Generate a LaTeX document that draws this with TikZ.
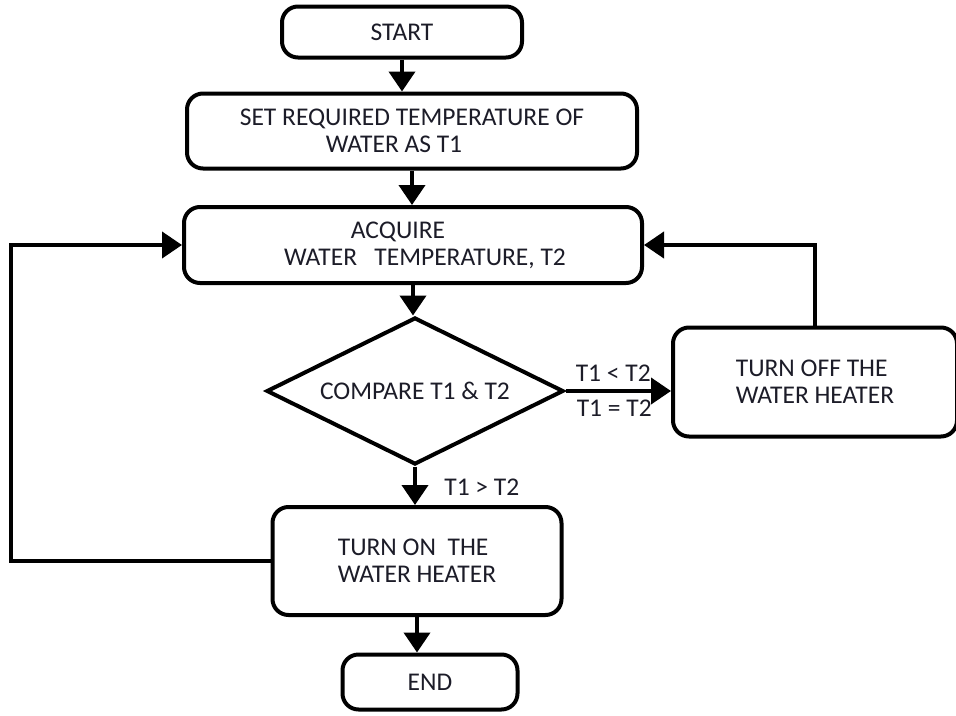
\documentclass[tikz,border=0pt]{standalone}
\usepackage{fontspec}
\setmainfont{Carlito}
\usetikzlibrary{arrows.meta,shapes.geometric}
\definecolor{ink}{HTML}{1C1C28}

\begin{document}
\begin{tikzpicture}[x=1pt,y=-1pt,font=\fontsize{25.5}{27}\selectfont,every node/.append style={text=ink},
 blk/.style={draw,line width=4pt,rounded corners=16pt,inner sep=0pt,align=center},
 arr/.style={line width=4pt,-{Triangle[length=20pt,width=26pt]}}]
 \useasboundingbox(0,0)rectangle(956,715);
 \node[blk,minimum width=240,minimum height=51](start)at(402,32){START};
 \node[blk,minimum width=450,minimum height=75](setT)at(412,131){SET REQUIRED TEMPERATURE OF\\WATER AS T1\hspace*{36pt}};
 \node[blk,minimum width=458,minimum height=76](acq)at(413,245){ACQUIRE\hspace*{30pt}\\\hspace*{24pt}WATER~~~TEMPERATURE, T2};
 \node[draw,diamond,shape aspect=2,line width=4pt,minimum width=297,minimum height=147,inner sep=0pt](cmp)at(415,391){COMPARE T1 \& T2};
 \node[blk,align=left,minimum width=284,minimum height=109](off)at(815,382){TURN OFF THE\\WATER HEATER};
 \node[blk,align=left,minimum width=289,minimum height=108](on)at(417,561){TURN ON~~THE\\WATER HEATER};
 \node[blk,minimum width=175,minimum height=55](stop)at(430,682){END};
 \foreach \a/\b in {start/setT,setT/acq,acq/cmp,on/stop}
  \draw[arr](\a.south)--(\a.south|-\b.north);
 \draw[arr](cmp.south)--(cmp.south|-on.north)node[pos=.55,right,xshift=24pt]{T1 > T2};
 \draw[arr](cmp.east)--(cmp.east-|off.west)node[midway,above=4pt,xshift=-5pt]{T1 < T2}node[midway,below=4pt,xshift=-4pt]{T1 = T2};
 \draw[arr](on.west)--++(-260,0)|-(acq.west);
 \draw[arr](off.north)|-(acq.east);
\end{tikzpicture}
\end{document}
